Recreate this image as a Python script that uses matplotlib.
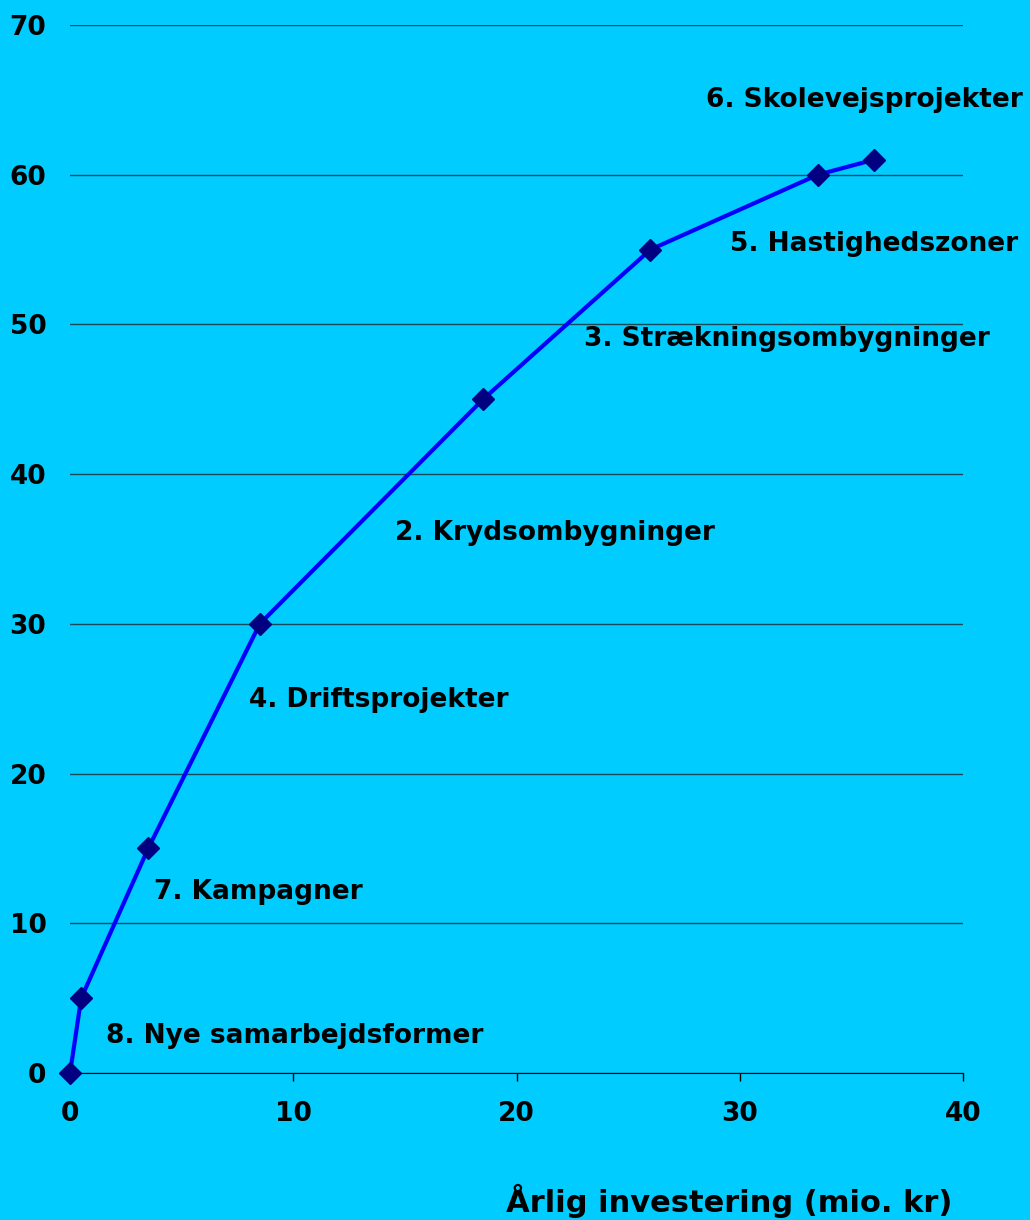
import matplotlib
matplotlib.use("Agg")
import matplotlib.pyplot as plt

# data: cumulative effect vs yearly investment
invest = [0, 0.5, 3.5, 8.5, 18.5, 26, 33.5, 36]
effect = [0, 5, 15, 30, 45, 55, 60, 61]

labels = ["8. Nye samarbejdsformer", "7. Kampagner", "4. Driftsprojekter",
          "2. Krydsombygninger", "3. Strækningsombygninger",
          "5. Hastighedszoner", "6. Skolevejsprojekter"]
label_x = [1.6, 3.75, 8.0, 14.55, 23.0, 29.55, 28.5]
label_y = [2.5, 12.1, 24.9, 36.1, 49.0, 55.4, 65.0]

bg = "#00CCFF"
plt.rcParams['font.family'] = ['DejaVu Sans']
plt.rcParams['font.weight'] = 'bold'

fig = plt.figure(figsize=(10.3, 12.2), dpi=100, facecolor=bg)
ax = fig.add_axes([0.068, 0.1205, 0.867, 0.859], facecolor=bg)

ax.plot(invest, effect, color="#0000FF", lw=3, marker="D", ms=11,
        mfc="#000080", mec="#000080", zorder=3, clip_on=False)

for t, x, y in zip(labels, label_x, label_y):
    ax.text(x, y, t, fontsize=19, fontweight='bold', ha='left', va='center')

ax.set_xlim(0, 40)
ax.set_ylim(0, 70)
ax.set_xticks(range(0, 41, 10))
ax.set_yticks(range(0, 71, 10))
ax.yaxis.grid(True, color="#1a4a5a", lw=1)
ax.set_axisbelow(True)
for s in ['left', 'right', 'top']:
    ax.spines[s].set_visible(False)
ax.spines['bottom'].set_color('black')
ax.tick_params(axis='x', direction='out', length=6, width=1, pad=14, labelsize=19)
ax.tick_params(axis='y', length=0, pad=17, labelsize=19)
for lb in ax.get_xticklabels() + ax.get_yticklabels():
    lb.set_fontweight('bold')

fig.text(0.925, 0.002, "Årlig investering (mio. kr)", fontsize=22,
         fontweight='bold', ha='right', va='bottom')

fig.savefig("out.png", dpi=100, facecolor=bg)
